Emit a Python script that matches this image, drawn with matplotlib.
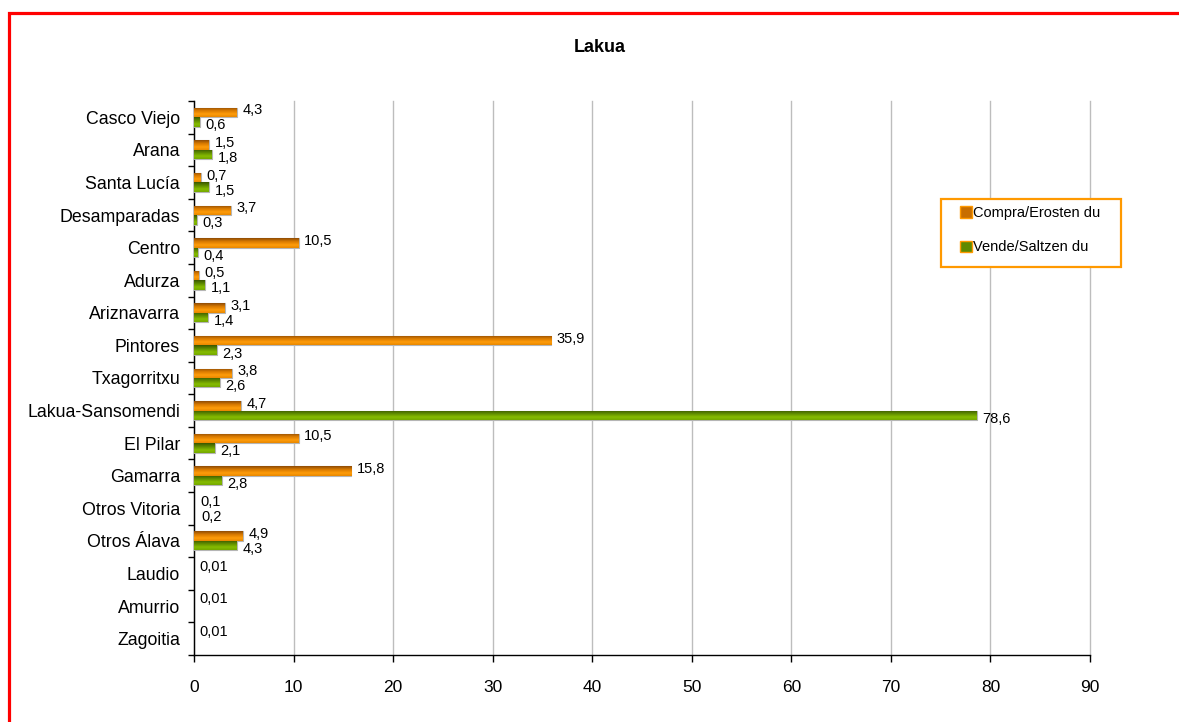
import numpy as np
import matplotlib
matplotlib.use("Agg")
import matplotlib.pyplot as plt
from matplotlib.patches import Patch, Rectangle
from matplotlib.colors import LinearSegmentedColormap

plt.rcParams['font.family'] = ['Liberation Sans', 'DejaVu Sans']

# ---- data ----
categories = ["Casco Viejo", "Arana", "Santa Lucía", "Desamparadas", "Centro",
              "Adurza", "Ariznavarra", "Pintores", "Txagorritxu",
              "Lakua-Sansomendi", "El Pilar", "Gamarra", "Otros Vitoria",
              "Otros Álava", "Laudio", "Amurrio", "Zagoitia"]
compra = [4.3, 1.5, 0.7, 3.7, 10.5, 0.5, 3.1, 35.9, 3.8, 4.7, 10.5, 15.8,
          0.1, 4.9, 0.01, 0.01, 0.01]
vende = [0.6, 1.8, 1.5, 0.3, 0.4, 1.1, 1.4, 2.3, 2.6, 78.6, 2.1, 2.8,
         0.2, 4.3, None, None, None]
series_names = ["Compra/Erosten du", "Vende/Saltzen du"]
title = "Lakua"
xticks = [0, 10, 20, 30, 40, 50, 60, 70, 80, 90]

W, H = 1179, 722
fig = plt.figure(figsize=(W / 100, H / 100), dpi=100)
ax = fig.add_axes([194 / W, 1 - 655 / H, (1090 - 194) / W, (655 - 101) / H])

n = len(categories)
y = np.arange(n)
bh = 0.29

orange_cmap = LinearSegmentedColormap.from_list(
    "o", [(0, "#8E4C06"), (0.35, "#D97A00"), (0.7, "#FF9C0A"), (1, "#E88800")])
green_cmap = LinearSegmentedColormap.from_list(
    "g", [(0, "#3A5600"), (0.35, "#5E8A00"), (0.7, "#86BC00"), (1, "#74A800")])


def draw_series(vals, offset, base, cmap, label_dy):
    ys, ws = [], []
    for i, v in enumerate(vals):
        if v is None:
            continue
        ys.append(y[i] + offset)
        ws.append(v)
    bars = ax.barh(ys, ws, height=bh, color=base, edgecolor="#B5B5B5",
                   linewidth=0.8, zorder=3)
    grad = np.linspace(0, 1, 64).reshape(-1, 1)
    for b in bars:
        x0, y0, w, h = b.get_x(), b.get_y(), b.get_width(), b.get_height()
        if w < 0.25:
            # too thin to be seen in the reference
            b.set_visible(False)
            continue
        im = ax.imshow(grad, cmap=cmap, aspect="auto", origin="upper",
                       extent=[x0, x0 + w, y0 + h, y0], zorder=3.5)
        im.set_clip_path(b)
    for yy, v in zip(ys, ws):
        txt = ("%g" % v).replace(".", ",")
        ax.annotate(txt, (v, yy), xytext=(4, label_dy), textcoords="offset points",
                    ha="left", va="center", fontsize=10.5, color="black", zorder=5)
    return bars


# orange above the category centre, green below (y axis inverted)
draw_series(compra, -bh / 2, "#F08A00", orange_cmap, 1.5)
draw_series(vende, bh / 2, "#78AA00", green_cmap, -2.5)

ax.set_xlim(0, 90)
ax.set_ylim(n - 0.5, -0.5)
ax.set_xticks(xticks)
ax.set_xticklabels([str(t) for t in xticks], fontsize=12.5)
ax.set_yticks(y)
ax.set_yticklabels(categories, fontsize=12.8)
ax.set_yticks(np.arange(n + 1) - 0.5, minor=True)
ax.tick_params(axis="y", which="major", length=0, pad=10)
ax.tick_params(axis="y", which="minor", length=4, width=1, color="black")
ax.tick_params(axis="x", which="major", length=5, width=1, pad=13, color="black")
ax.xaxis.grid(True, color="#BDBDBD", linewidth=1, clip_on=False)
ax.set_axisbelow(True)
for s in ["top", "right"]:
    ax.spines[s].set_visible(False)
for s in ["left", "bottom"]:
    ax.spines[s].set_color("black")
    ax.spines[s].set_linewidth(1)

fig.text(600 / W, 1 - 48 / H, title, ha="center", va="center",
         fontsize=13, fontweight="bold")

# legend: frame drawn separately so the entries can sit inset like the reference
fig.add_artist(Rectangle((941 / W, 1 - 267 / H), 180 / W, 68 / H,
                         transform=fig.transFigure, fill=True, facecolor="white",
                         edgecolor="#FF9900", linewidth=1.6, zorder=6))
handles = [Patch(facecolor="#C86E00", edgecolor="#FF9900", linewidth=1),
           Patch(facecolor="#5E8A00", edgecolor="#FF9900", linewidth=1)]
leg = fig.legend(handles, series_names, loc="upper left",
                 bbox_to_anchor=(960 / W, 1 - 206 / H),
                 fontsize=10.5, frameon=False,
                 handlelength=0.8, handleheight=0.8, handletextpad=0.12,
                 labelspacing=1.4, borderpad=0.0, borderaxespad=0)
leg.set_zorder(7)

# red outer border (only top/left visible in the reference)
fig.add_artist(Rectangle((9.5 / W, -0.1), 1.2, 1.1 - 12.8 / H,
                         transform=fig.transFigure, fill=False,
                         edgecolor="#FF0000", linewidth=2.3, zorder=10))

fig.savefig("out.png", dpi=100)
